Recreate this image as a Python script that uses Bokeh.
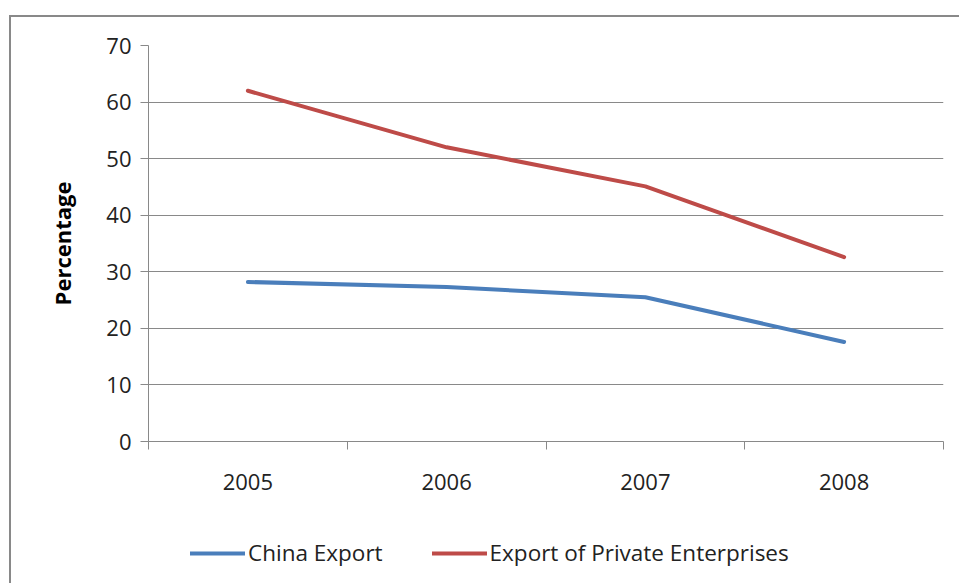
from bokeh.plotting import figure
from bokeh.layouts import column
from bokeh.models import Range1d, FixedTicker, Legend, LegendItem
from bokeh.embed import file_html
from bokeh.resources import INLINE

years = ["2005", "2006", "2007", "2008"]
china_export = [28.2, 27.3, 25.5, 17.6]
private_export = [62.0, 52.0, 45.1, 32.6]
y_ticks = [0, 10, 20, 30, 40, 50, 60, 70]
series_names = ["China Export", "Export of Private Enterprises"]

# category centres / boundaries on a numeric axis
x_pos = [i + 0.5 for i in range(len(years))]
x_bounds = list(range(len(years) + 1))

GRID = "#898989"
TXT = "#222222"
FONT = "Open Sans"
BLUE = "#4A7EBB"
RED = "#BE4B48"

p = figure(x_range=Range1d(0, len(years)), y_range=Range1d(0, 70),
           width=948, height=509, output_backend="svg", toolbar_location=None,
           min_border_left=137, min_border_top=28,
           min_border_right=16, min_border_bottom=85)
p.outline_line_color = None
p.background_fill_color = "white"
p.border_fill_color = "white"

xax = p.xaxis[0]
xax.ticker = FixedTicker(ticks=x_pos, minor_ticks=x_bounds)
xax.major_label_overrides = {x: y for x, y in zip(x_pos, years)}
xax.axis_line_color = GRID
xax.major_tick_line_color = None
xax.major_tick_out = 0
xax.major_tick_in = 0
xax.minor_tick_line_color = GRID
xax.minor_tick_out = 8
xax.minor_tick_in = 0
xax.major_label_standoff = 24
xax.major_label_text_font = FONT
xax.major_label_text_font_size = "22px"
xax.major_label_text_color = TXT

yax = p.yaxis[0]
yax.ticker = FixedTicker(ticks=y_ticks)
yax.axis_line_color = GRID
yax.major_tick_line_color = GRID
yax.major_tick_out = 8
yax.major_tick_in = 0
yax.minor_tick_line_color = None
yax.major_label_standoff = 9
yax.major_label_text_font = FONT
yax.major_label_text_font_size = "22px"
yax.major_label_text_color = TXT
yax.axis_label = "Percentage"
yax.axis_label_text_font = FONT
yax.axis_label_text_font_style = "bold"
yax.axis_label_text_font_size = "22px"
yax.axis_label_text_color = "#000000"
yax.axis_label_standoff = 26

p.xgrid.grid_line_color = None
p.ygrid.ticker = FixedTicker(ticks=y_ticks)
p.ygrid.grid_line_color = GRID
p.ygrid.grid_line_width = 1

p.line(x_pos, china_export, line_color=BLUE, line_width=4, line_cap="round", line_join="round")
p.line(x_pos, private_export, line_color=RED, line_width=4, line_cap="round", line_join="round")

# legend strip below the chart (its series lie outside this strip's y range, so only the keys show)
p2 = figure(x_range=Range1d(0, 1), y_range=Range1d(0, 1), width=948, height=57,
            output_backend="svg", toolbar_location=None,
            x_axis_location=None, y_axis_location=None,
            min_border_left=0, min_border_right=0, min_border_top=0, min_border_bottom=0)
p2.outline_line_color = None
p2.grid.grid_line_color = None
p2.border_fill_color = "white"
k1 = p2.line(x_pos, china_export, line_color=BLUE, line_width=4, line_cap="round")
k2 = p2.line(x_pos, private_export, line_color=RED, line_width=4, line_cap="round")

legend = Legend(items=[LegendItem(label=series_names[0], renderers=[k1]),
                       LegendItem(label=series_names[1], renderers=[k2])],
                orientation="horizontal", location=(42, 15), padding=0, margin=0,
                spacing=49, glyph_width=55, glyph_height=20, label_standoff=3,
                border_line_color=None, background_fill_alpha=0,
                label_text_font=FONT, label_text_font_size="22.5px", label_text_color=TXT)
p2.add_layout(legend, "center")

layout = column(p, p2, spacing=0)
layout.margin = (15, 0, 0, 9)
layout.styles = {"border-top": "2px solid #898989", "border-left": "2px solid #898989"}

open("out.html", "w").write(file_html(layout, INLINE))
